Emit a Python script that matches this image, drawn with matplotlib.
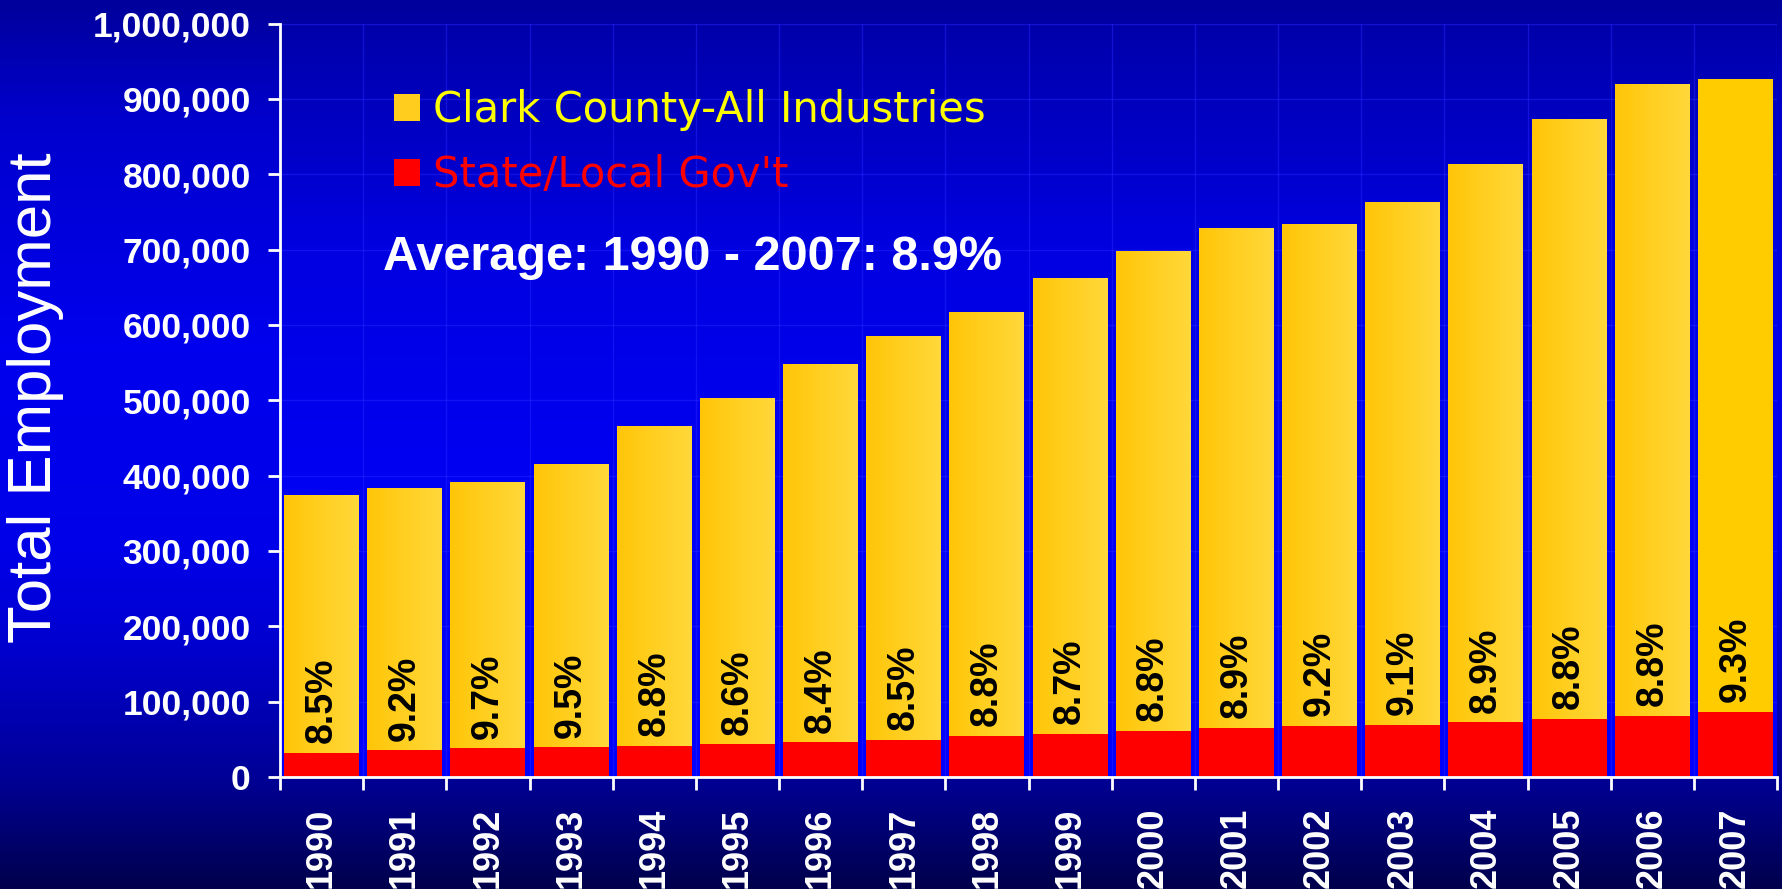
import numpy as np
import matplotlib
matplotlib.use("Agg")
import matplotlib.pyplot as plt
from matplotlib.patches import Patch
from matplotlib.ticker import FuncFormatter, MultipleLocator

# ---- data -------------------------------------------------------------
years = [1990, 1991, 1992, 1993, 1994, 1995, 1996, 1997, 1998,
         1999, 2000, 2001, 2002, 2003, 2004, 2005, 2006, 2007]
total_employment = [374000, 383000, 391000, 415000, 465000, 502000,
                    547000, 584000, 617000, 662000, 698000, 728000,
                    733000, 762000, 813000, 873000, 919000, 926000]
gov_share_pct = [8.5, 9.2, 9.7, 9.5, 8.8, 8.6, 8.4, 8.5, 8.8,
                 8.7, 8.8, 8.9, 9.2, 9.1, 8.9, 8.8, 8.8, 9.3]
gov_employment = [t * p / 100.0 for t, p in zip(total_employment, gov_share_pct)]
series_labels = ["Clark County-All Industries", "State/Local Gov't"]
average_note = "Average: 1990 - 2007: 8.9%"
y_title = "Total Employment"

# ---- figure -----------------------------------------------------------
W, H = 1782, 889
fig = plt.figure(figsize=(W / 100, H / 100), dpi=100)

# slide background: vertical blue gradient
bg = fig.add_axes([0, 0, 1, 1])
bg.set_axis_off()
rows = np.arange(H)
blue = np.interp(rows, [0, 120, 350, 550, 650, 780, 889],
                 [155, 205, 238, 232, 205, 148, 75]) / 255.0
bg_img = np.zeros((H, 1, 3))
bg_img[:, 0, 2] = blue
bg.imshow(bg_img, aspect="auto", extent=[0, 1, 0, 1])
bg.set_xlim(0, 1)
bg.set_ylim(0, 1)

left_px, right_px, top_px, bottom_px = 280, 1777, 23.5, 777
ax = fig.add_axes([left_px / W, 1 - bottom_px / H,
                   (right_px - left_px) / W, (bottom_px - top_px) / H])
ax.patch.set_visible(False)

n = len(years)
x = np.arange(n)
xlim = (-0.5, n - 0.5)
ylim = (0, 1_000_000)

# plot-area gradient
pa_rows = np.linspace(0, 1, 300)
pa_blue = np.interp(pa_rows, [0, 0.3, 0.65, 1.0], [170, 225, 245, 252]) / 255.0
pa_img = np.zeros((300, 1, 3))
pa_img[:, 0, 2] = pa_blue
ax.imshow(pa_img, aspect="auto", extent=[xlim[0], xlim[1], ylim[0], ylim[1]],
          zorder=0)

# grid
for yv in range(100_000, 1_000_001, 100_000):
    ax.axhline(yv, color="#2a2aff", lw=1.0, alpha=0.45, zorder=0.5)
for xb in np.arange(n + 1) - 0.5:
    ax.axvline(xb, color="#2a2aff", lw=1.0, alpha=0.45, zorder=0.5)

# bars
bar_w = 0.9
yellow_bars = ax.bar(x, total_employment, width=bar_w, color="#ffcd1e",
                     linewidth=0, zorder=2)
grad = np.zeros((1, 64, 3))
grad[0, :, 0] = 1.0
grad[0, :, 1] = np.linspace(198, 216, 64) / 255.0
grad[0, :, 2] = np.linspace(8, 58, 64) / 255.0
for i, b in enumerate(yellow_bars):
    if i == n - 1:
        b.set_facecolor("#ffcc00")
        continue
    x0, w, h = b.get_x(), b.get_width(), b.get_height()
    ax.imshow(grad, aspect="auto", extent=[x0, x0 + w, 0, h], zorder=2.1)

ax.bar(x, gov_employment, width=bar_w, color="#ff0000", linewidth=0, zorder=3)

for xi, g, p in zip(x, gov_employment, gov_share_pct):
    ax.annotate(f"{p}%", xy=(xi, g), xytext=(0, 7), textcoords="offset points",
                rotation=90, ha="center", va="bottom", fontsize=27,
                fontweight="bold", color="black", family="Liberation Sans",
                zorder=4)

ax.set_xlim(*xlim)
ax.set_ylim(*ylim)

# axes styling
for s in ("top", "right"):
    ax.spines[s].set_visible(False)
for s in ("left", "bottom"):
    ax.spines[s].set_color("white")
    ax.spines[s].set_linewidth(2)
    ax.spines[s].set_zorder(5)

ax.yaxis.set_major_locator(MultipleLocator(100_000))
ax.yaxis.set_major_formatter(FuncFormatter(lambda v, _: f"{int(v):,}"))
ax.tick_params(axis="y", colors="white", length=9, width=2, pad=12,
               labelsize=25.5)
for lab in ax.get_yticklabels():
    lab.set_fontweight("bold")
    lab.set_family("Liberation Sans")

ax.set_xticks(x)
ax.set_xticklabels([str(yv) for yv in years], rotation=90, fontsize=26,
                   fontweight="bold", family="Liberation Sans", color="white")
ax.set_xticks(np.arange(n + 1) - 0.5, minor=True)
ax.tick_params(axis="x", which="major", length=0, pad=22)
ax.tick_params(axis="x", which="minor", length=9.5, width=2, colors="white")

# legend
handles = [Patch(facecolor="#ffcd1e", edgecolor="none"),
           Patch(facecolor="#ff0000", edgecolor="none")]
leg = fig.legend(handles, series_labels, loc="upper left",
                 bbox_to_anchor=(394 / W, 1 - 89 / H), frameon=False,
                 prop={"family": "DejaVu Sans", "size": 30},
                 handlelength=0.63, handleheight=0.63, handletextpad=0.3,
                 labelspacing=0.56, borderpad=0, borderaxespad=0)
leg.get_texts()[0].set_color("#ffff00")
leg.get_texts()[1].set_color("#ff0000")

fig.text(383 / W, 1 - 257 / H, average_note, fontsize=35, fontweight="bold",
         color="white", family="Liberation Sans", ha="left", va="center")

fig.text(36 / W, 1 - 398 / H, y_title, rotation=90, fontsize=44.5,
         color="white", family="Liberation Sans", ha="center", va="center")

fig.savefig("out.png", dpi=100)
